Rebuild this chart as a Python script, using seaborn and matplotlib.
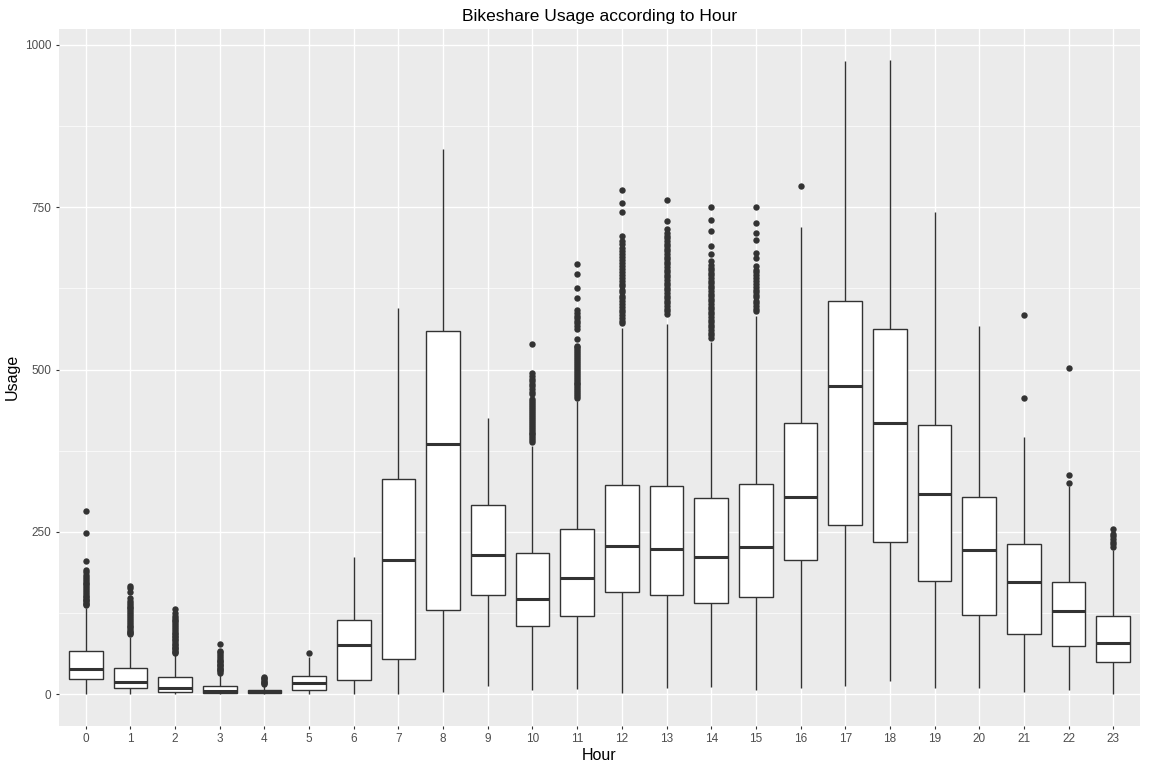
import numpy as np
import pandas as pd
import matplotlib
matplotlib.use("Agg")
import matplotlib.pyplot as plt
import seaborn as sns

# hours of the day, as category labels
hours = [str(h) for h in range(24)]

# five-number summary per hour:
# lower whisker end, lower quartile, median, upper quartile, upper whisker end
whisker_low = [1, 1, 1, 1, 1, 1, 1, 1, 4, 12, 6, 8, 2, 10, 11, 6, 10, 13, 21, 9, 9, 4, 7, 1]
q1 = [23, 9, 3, 2, 2, 6, 22, 54, 130, 153, 105, 121, 157, 153, 141, 150, 206, 261, 234, 174, 122, 93, 74, 49]
median = [39, 19, 9, 5, 4, 18, 75, 207, 385, 215, 146, 179, 228, 223, 211, 226, 304, 475, 418, 309, 222, 173, 128, 79]
q3 = [67, 41, 27, 13, 7, 28, 115, 331, 559, 292, 217, 255, 322, 321, 302, 323, 418, 605, 563, 414, 303, 232, 173, 120]
whisker_high = [133, 88, 61, 31, 14, 57, 211, 595, 839, 425, 382, 452, 564, 570, 542, 582, 720, 975, 977, 743, 567, 396, 320, 222]

# points beyond the whiskers (dense runs estimated)
outliers = {
    "0": [137, 139, 141, 143, 145, 147, 150, 152, 155, 157, 160, 163, 166, 169, 172, 175,
          178, 181, 184, 188, 192, 205, 248, 282],
    "1": [92, 94, 96, 98, 100, 103, 105, 108, 111, 114, 117, 120, 123, 126, 129, 132, 135,
          138, 141, 144, 148, 158, 163, 167],
    "2": [63, 65, 67, 69, 71, 73, 76, 78, 80, 83, 85, 88, 90, 93, 95, 98, 100, 103, 106,
          109, 112, 115, 118, 121, 125, 131],
    "3": [33, 35, 37, 39, 41, 43, 45, 47, 49, 51, 53, 56, 59, 62, 65, 67, 78],
    "4": [15, 17, 19, 21, 23, 25, 27],
    "5": [64],
    "10": [388, 391, 394, 397, 400, 403, 406, 409, 412, 415, 418, 421, 424, 427, 430, 433,
           436, 439, 442, 445, 448, 452, 455, 462, 466, 470, 474, 478, 482, 486, 490, 494, 539],
    "11": [456, 459, 462, 465, 468, 471, 474, 477, 480, 483, 486, 489, 492, 495, 498, 501,
           504, 507, 510, 513, 516, 519, 522, 525, 528, 531, 534, 537, 547, 563, 567, 571,
           575, 579, 583, 587, 591, 610, 626, 647, 663],
    "12": [571, 575, 580, 584, 588, 592, 597, 601, 605, 610, 614, 619, 623, 628, 632, 637,
           641, 646, 650, 655, 659, 664, 668, 673, 678, 683, 688, 693, 698, 705, 743, 757, 777],
    "13": [586, 590, 594, 598, 602, 606, 610, 614, 618, 622, 626, 630, 634, 638, 642, 646,
           650, 654, 658, 662, 666, 670, 674, 678, 682, 686, 690, 694, 698, 702, 706, 710,
           716, 729, 761],
    "14": [549, 553, 557, 561, 565, 569, 573, 577, 581, 585, 589, 593, 597, 601, 605, 609,
           613, 617, 621, 625, 629, 633, 637, 641, 645, 649, 653, 657, 661, 667, 678, 690,
           713, 730, 750],
    "15": [590, 594, 598, 602, 606, 611, 615, 619, 623, 627, 632, 636, 641, 645, 650, 654,
           659, 672, 680, 700, 711, 726, 750],
    "16": [783],
    "21": [456, 584],
    "22": [325, 337, 502],
    "23": [227, 231, 235, 239, 243, 247, 255],
}

# long tables for seaborn
box_df = pd.DataFrame({
    "Hour": np.repeat(hours, 5),
    "Usage": np.column_stack([whisker_low, q1, median, q3, whisker_high]).ravel(),
})
out_df = pd.DataFrame(
    [(h, v) for h, vals in outliers.items() for v in vals], columns=["Hour", "Usage"]
)

sns.set_theme(style="darkgrid", rc={"axes.facecolor": "#EBEBEB", "grid.color": "white"})
plt.rcParams["font.family"] = ["Liberation Sans", "DejaVu Sans"]

fig, ax = plt.subplots(figsize=(11.52, 7.68), dpi=100)
fig.subplots_adjust(left=0.0512, right=0.9896, bottom=0.0551, top=0.9622)

line_col = "#333333"
sns.boxplot(
    data=box_df, x="Hour", y="Usage", order=hours, whis=(0, 100), width=0.75,
    color="white", linecolor=line_col, linewidth=1.0, showfliers=False, showcaps=False,
    boxprops=dict(facecolor="white", edgecolor=line_col),
    medianprops=dict(color=line_col, linewidth=2.2),
    ax=ax,
)
sns.stripplot(
    data=out_df, x="Hour", y="Usage", order=hours, jitter=False,
    color=line_col, size=4.6, linewidth=0, ax=ax,
)

ax.set_xlim(-0.6, 23.6)
ax.set_ylim(-48.5, 1024.5)
ax.set_yticks([0, 250, 500, 750, 1000])
ax.set_yticks([125, 375, 625, 875], minor=True)
ax.grid(True, which="major", color="white", linewidth=1.0)
ax.grid(True, which="minor", axis="y", color="white", linewidth=0.5)
ax.set_axisbelow(True)
for s in ax.spines.values():
    s.set_visible(False)

ax.tick_params(axis="both", which="major", length=2.5, width=0.8, color=line_col,
               labelsize=8.5, labelcolor="#4D4D4D", pad=3, bottom=True, left=True)
ax.tick_params(axis="y", which="minor", length=0, left=False)

ax.set_xlabel("Hour", fontsize=11.5, color="black", labelpad=2)
ax.set_ylabel("Usage", fontsize=11.5, color="black", labelpad=4)
ax.set_title("Bikeshare Usage according to Hour", fontsize=12.5, color="black", pad=6)

fig.savefig("out.png", dpi=100)
